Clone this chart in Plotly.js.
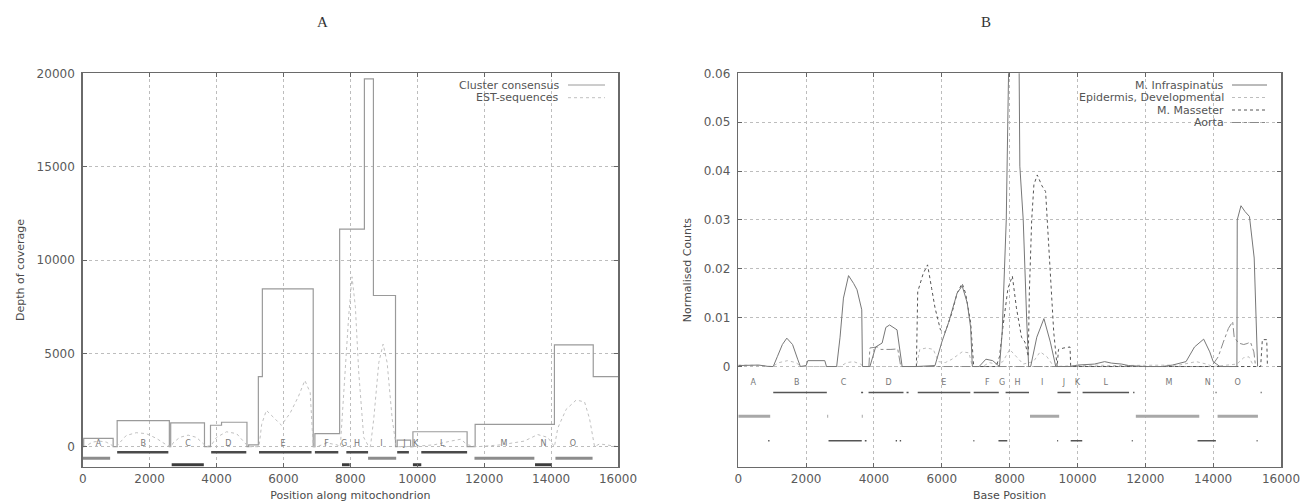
<!DOCTYPE html>
<html>
<head>
<meta charset="utf-8">
<script src="https://cdn.plot.ly/plotly-3.0.1.min.js"></script>
<style>html,body{margin:0;padding:0;background:#fff;}#chart{width:1305px;height:503px;}</style>
</head>
<body>
<div id="chart"></div>
<script>
// ---------- Panel A data ----------
const consensusX = [0,30,30,910,910,1030,1030,2590,2590,2630,2630,3640,3640,3820,3820,4150,4150,4910,4910,4960,4960,5250,5250,5370,5370,6890,6890,6940,6940,7680,7680,8420,8420,8690,8690,9350,9350,9400,9400,9800,9800,9870,9870,11490,11490,11730,11730,14100,14100,15260,15260,16000];
const consensusY = [0,0,450,450,0,0,1400,1400,0,0,1280,1280,0,0,1150,1150,1310,1310,0,0,100,100,3750,3750,8450,8450,0,0,700,700,11650,11650,19700,19700,8100,8100,0,0,350,350,0,0,800,800,0,0,1200,1200,5450,5450,3750,3750];
const estX = [0,100,300,500,700,900,1000,1100,1300,1600,1900,2200,2500,2650,2700,2900,3150,3400,3600,3700,3850,4000,4300,4600,4850,4950,5270,5350,5490,5700,5940,6200,6450,6640,6800,6890,7000,7300,7600,7700,7800,7950,8050,8150,8250,8400,8550,8600,8700,8850,8980,9100,9250,9370,9800,10500,11000,11300,11500,11800,12500,13200,13600,13900,14100,14200,14450,14750,15000,15150,15300,15450,15650,15850,16000];
const estY = [0,50,250,300,250,50,0,200,600,750,700,450,100,0,200,500,620,500,150,0,100,500,800,700,200,0,0,1200,1950,1600,1150,1800,2700,3550,2900,0,0,200,100,0,3000,7000,9100,7500,4000,500,0,0,1500,4500,5500,4500,1500,0,0,100,300,400,100,0,100,300,650,500,0,1000,2000,2500,2400,1500,0,150,100,50,0];
// gene annotation segments (start, end) for three strand rows
const aRow1Start = [1030,3840,5270,6940,7880,9400,10120];
const aRow1End   = [2560,4890,6840,7640,8530,9750,11490];
const aRow2Start = [0,8530,11710,14130];
const aRow2End   = [820,9370,13500,15240];
const aRow3Start = [2660,7750,9870,13520];
const aRow3End   = [3620,7980,10120,14000];
const aLabels  = ['A','B','C','D','E','F','G','H','I','J','K','L','M','N','O'];
const aLabelX  = [470,1810,3150,4350,5990,7290,7810,8200,8930,9620,9950,10750,12590,13770,14650];

// ---------- Panel B data ----------
const infraX = [0,600,900,1030,1150,1300,1430,1600,1750,1830,2000,2050,2550,2600,2900,3000,3100,3250,3400,3500,3640,3660,3880,4050,4240,4350,4460,4680,4830,5250,5800,6000,6200,6450,6600,6750,6850,6900,7100,7300,7500,7650,7700,7780,7900,7990,8270,8300,8400,8500,8560,8620,8800,9010,9200,9360,9800,10000,10500,10800,11000,11300,11500,12000,12500,12800,13200,13450,13720,13900,14000,14100,14200,14700,14710,14820,14940,15070,15210,15310];
const infraY = [0.0002,0.0003,0,0,0.002,0.0045,0.0058,0.0045,0.0015,0,0.0002,0.0012,0.0012,0,0,0.006,0.014,0.0186,0.017,0.0157,0.0116,0,0,0.004,0.0048,0.008,0.0085,0.0075,0,0,0.0002,0.005,0.009,0.015,0.0165,0.013,0.008,0,0,0.0015,0.0012,0.0003,0,0.007,0.03,0.07,0.07,0.041,0.03,0.01,0,0,0.006,0.0098,0.005,0,0,0.0003,0.0005,0.001,0.0007,0.0005,0.0002,0,0,0.0003,0.001,0.004,0.0056,0.003,0.001,0.0005,0,0,0.03,0.0329,0.0317,0.0307,0.0222,0];
const epiX = [0,700,1000,1200,1450,1700,1850,3000,3200,3400,3600,3700,5250,5350,5550,5750,5900,6100,6300,6600,6800,6900,7200,7400,7600,7800,8000,8200,8400,8700,8900,9100,9300,10500,11000,13000,13500,13800,14000,14700,14900,15050,15200];
const epiY = [0.0003,0.0002,0,0.0008,0.0012,0.0008,0,0,0.0008,0.001,0.0005,0,0,0.0035,0.0038,0.0035,0.001,0.0008,0.0015,0.003,0.0028,0,0,0.0008,0.0005,0.001,0.0035,0.002,0.0005,0.001,0.003,0.002,0,0.0003,0.0002,0.0003,0.001,0.0005,0,0.0005,0.0018,0.002,0];
const masX = [5250,5290,5450,5580,5700,5800,5960,6100,6300,6450,6600,6700,6850,6940,7600,7700,7800,7950,8080,8200,8350,8450,8550,8580,8650,8715,8815,8950,9060,9150,9210,9300,9400,9440,9600,9780,9800,15400,15450,15580,15600];
const masY = [0,0.0153,0.019,0.0208,0.016,0.012,0.0075,0.007,0.011,0.015,0.017,0.015,0.009,0,0,0.002,0.008,0.016,0.0185,0.012,0.006,0.005,0.002,0.015,0.03,0.0372,0.0392,0.037,0.0358,0.025,0.0174,0.007,0,0.0035,0.0038,0.004,0,0,0.0055,0.0055,0];
const aortaX = [3850,3880,4100,4200,4500,4700,4790,13900,14000,14150,14300,14450,14575,14620,14750,14900,15000,15100,15200,15250];
const aortaY = [0,0.0038,0.004,0.0035,0.0035,0.0036,0,0,0.0005,0.002,0.005,0.0078,0.0092,0.006,0.0048,0.0045,0.0047,0.005,0.003,0];
const bRow1Start = [1030,3620,3840,4960,5290,6940,7880,9410,10150,11640,14070,15400];
const bRow1End   = [2610,3680,4870,5020,6840,7680,8570,9800,11520,11680,14100,15430];
const bRow2Start = [0,2620,3640,8600,11720,14130];
const bRow2End   = [940,2650,3670,9460,13590,15320];
const bRow3Start = [880,2660,3730,4640,4760,6930,7670,9400,9800,11600,13540,15280];
const bRow3End   = [920,3640,3780,4680,4800,6960,7930,9430,10140,11630,14080,15310];
const bLabels = ['A','B','C','D','E','F','G','H','I','J','K','L','M','N','O'];
const bLabelX = [444,1725,3100,4430,6060,7340,7780,8230,8960,9600,10000,10830,12700,13840,14720];

const xTickVals = [0,2000,4000,6000,8000,10000,12000,14000,16000];
const aYTickVals = [0,5000,10000,15000,20000];
const bYTickVals = [0,0.01,0.02,0.03,0.04,0.05,0.06];

// ---------- helpers ----------
function segs(starts, ends, level){
  const x=[], y=[];
  for(let i=0;i<starts.length;i++){ x.push(starts[i],ends[i],null); y.push(level,level,null); }
  return {x,y};
}
const tickFont = {family:'DejaVu Sans', size:12, color:'#5a5a5a'};
const titleFont = {family:'DejaVu Sans', size:11, color:'#4a4a4a'};
const W=1305, H=503;
const axA = [82.7/W, 618/W], axB=[738.3/W, 1281/W], yDom=[1-466.7/H, 1-73.3/H];

const traces = [];
traces.push({x:consensusX, y:consensusY, xaxis:'x', yaxis:'y', mode:'lines', line:{color:'#9a9a9a', width:1.2}, name:'Cluster consensus', showlegend:false, hoverinfo:'skip'});
traces.push({x:estX, y:estY, xaxis:'x', yaxis:'y', mode:'lines', line:{color:'#c0c0c0', width:1, dash:'dot'}, name:'EST-sequences', showlegend:false, hoverinfo:'skip'});
[[aRow1Start,aRow1End,-300,'#4a4a4a',2.5],[aRow2Start,aRow2End,-620,'#8c8c8c',3],[aRow3Start,aRow3End,-970,'#3c3c3c',3]].forEach(r=>{
  const s=segs(r[0],r[1],r[2]);
  traces.push({x:s.x,y:s.y,xaxis:'x',yaxis:'y',mode:'lines',line:{color:r[3],width:r[4]},showlegend:false,hoverinfo:'skip',connectgaps:false});
});
traces.push({x:aLabelX, y:aLabelX.map(()=>150), text:aLabels, xaxis:'x', yaxis:'y', mode:'text', textfont:{family:'DejaVu Sans', size:8, color:'#777'}, showlegend:false, hoverinfo:'skip'});

traces.push({x:epiX, y:epiY, xaxis:'x2', yaxis:'y2', mode:'lines', line:{color:'#bdbdbd', width:1, dash:'dot'}, name:'Epidermis, Developmental', showlegend:false, hoverinfo:'skip'});
traces.push({x:aortaX, y:aortaY, xaxis:'x2', yaxis:'y2', mode:'lines', line:{color:'#8a8a8a', width:1, dash:'dashdot'}, name:'Aorta', showlegend:false, hoverinfo:'skip'});
traces.push({x:masX, y:masY, xaxis:'x2', yaxis:'y2', mode:'lines', line:{color:'#555', width:1, dash:'dot'}, name:'M. Masseter', showlegend:false, hoverinfo:'skip'});
traces.push({x:infraX, y:infraY, xaxis:'x2', yaxis:'y2', mode:'lines', line:{color:'#777', width:1}, name:'M. Infraspinatus', showlegend:false, hoverinfo:'skip'});
[[bRow1Start,bRow1End,-0.0053,'#555',1.5],[bRow2Start,bRow2End,-0.0102,'#a8a8a8',3],[bRow3Start,bRow3End,-0.0152,'#555',1.5]].forEach(r=>{
  const s=segs(r[0],r[1],r[2]);
  traces.push({x:s.x,y:s.y,xaxis:'x2',yaxis:'y2',mode:'lines',line:{color:r[3],width:r[4]},showlegend:false,hoverinfo:'skip',connectgaps:false});
});
traces.push({x:bLabelX, y:bLabelX.map(()=>-0.0034), text:bLabels, xaxis:'x2', yaxis:'y2', mode:'text', textfont:{family:'DejaVu Sans', size:8, color:'#777'}, showlegend:false, hoverinfo:'skip'});

function xAxis(dom, anchor, title){
  return {domain:dom, anchor:anchor, range:[0,16000], tickvals:xTickVals, ticktext:xTickVals.map(String),
    ticks:'inside', ticklen:4, tickcolor:'#666', showline:true, mirror:'ticks', linecolor:'#6a6a6a', linewidth:1.5,
    showgrid:true, gridcolor:'#bdbdbd', griddash:'3px,3px', gridwidth:1, zeroline:false, tickfont:tickFont,
    title:{text:title, font:titleFont, standoff:6}, automargin:false, fixedrange:true};
}
function yAxis(dom, anchor, range, vals, title, fmt){
  return {domain:dom, anchor:anchor, range:range, tickvals:vals, ticktext:vals.map(fmt),
    ticks:'inside', ticklen:4, tickcolor:'#666', showline:true, mirror:'ticks', linecolor:'#6a6a6a', linewidth:1.5,
    showgrid:true, gridcolor:'#bdbdbd', griddash:'3px,3px', gridwidth:1, zeroline:false, tickfont:tickFont,
    ticklabelstandoff:4, title:{text:title, font:titleFont, standoff:10}, automargin:false, fixedrange:true};
}

const legFont = {family:'DejaVu Sans', size:11, color:'#555'};
function ann(text, px, py, xanchor, font){
  return {text:text, x:px/W, y:1-py/H, xref:'paper', yref:'paper', xanchor:xanchor, yanchor:'middle', showarrow:false, font:font};
}
const serif = {family:'Liberation Serif', size:15, color:'#333'};
const annotations = [
  ann('A', 322, 22, 'center', serif),
  ann('B', 986, 22, 'center', serif),
  ann('Cluster consensus', 561, 85, 'right', legFont),
  ann('EST-sequences', 561, 97.7, 'right', legFont),
  ann('M. Infraspinatus', 1226, 85, 'right', legFont),
  ann('Epidermis, Developmental', 1226, 97.5, 'right', legFont),
  ann('M. Masseter', 1226, 110, 'right', legFont),
  ann('Aorta', 1226, 122.5, 'right', legFont)
];
function legLine(x0,x1,yy,color,dash){
  return {type:'line', xref:'paper', yref:'paper', x0:x0/W, x1:x1/W, y0:1-yy/H, y1:1-yy/H, line:{color:color, width:1, dash:dash}, layer:'above'};
}
const shapes = [
  {type:'rect', xref:'paper', yref:'paper', x0:1047/W, x1:1280/W, y0:1-127/H, y1:1-74.5/H, fillcolor:'#fff', line:{width:0}, layer:'between'},
  legLine(568,605,85,'#9a9a9a','solid'),
  legLine(568,605,97.7,'#c0c0c0','dot'),
  legLine(1232,1267,85,'#777','solid'),
  legLine(1232,1267,97.5,'#bdbdbd','dot'),
  legLine(1232,1267,110,'#555','dot'),
  legLine(1232,1267,122.5,'#8a8a8a','dashdot')
];

const layout = {
  width:W, height:H, margin:{l:0,r:0,t:0,b:0}, paper_bgcolor:'#fff', plot_bgcolor:'#fff', showlegend:false,
  xaxis: xAxis(axA,'y','Position along mitochondrion'),
  yaxis: yAxis(yDom,'x',[-1071,20000],aYTickVals,'Depth of coverage', v=>String(v)),
  xaxis2: xAxis(axB,'y2','Base Position'),
  yaxis2: yAxis(yDom,'x2',[-0.0205,0.06],bYTickVals,'Normalised Counts', v=>v===0?'0':v.toFixed(2)),
  annotations: annotations, shapes: shapes
};
Plotly.newPlot('chart', traces, layout, {staticPlot:true, displayModeBar:false});
</script>
</body>
</html>
